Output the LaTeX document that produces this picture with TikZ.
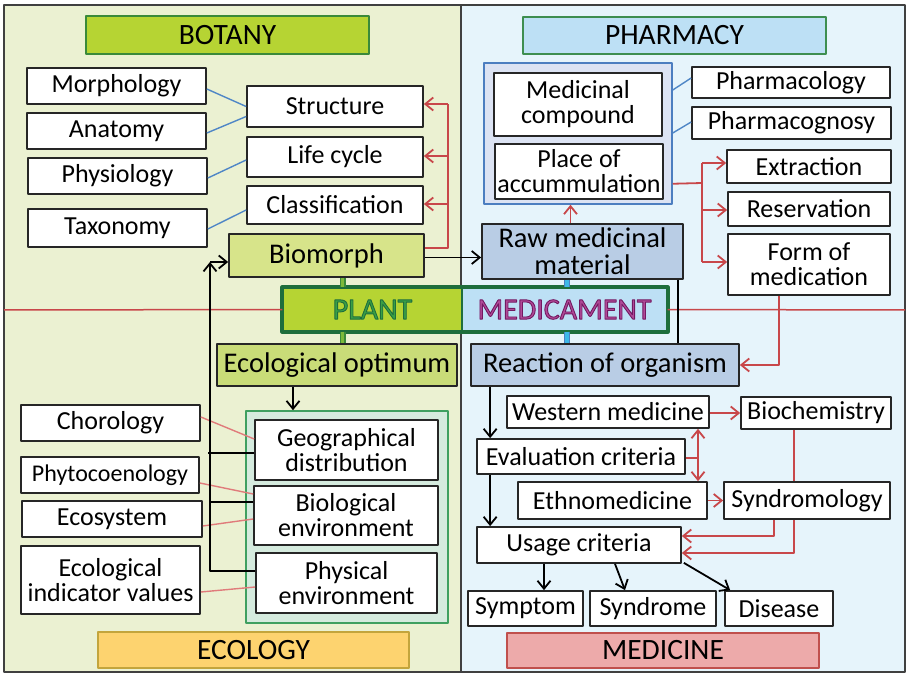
\documentclass[tikz,border=0pt]{standalone}
\usepackage{fontspec}
\setmainfont{Carlito}
\usetikzlibrary{arrows.meta,calc}

\definecolor{botbg}{HTML}{EBF1D2}
\definecolor{phbg}{HTML}{E6F4FB}
\definecolor{botfill}{HTML}{B6D433}
\definecolor{botline}{HTML}{3A8A3A}
\definecolor{phfill}{HTML}{BDE0F5}
\definecolor{phline}{HTML}{3E8E50}
\definecolor{ecofill}{HTML}{FDD36F}
\definecolor{ecoline}{HTML}{C3A53C}
\definecolor{medfill}{HTML}{EDAAAA}
\definecolor{medline}{HTML}{C0504D}
\definecolor{morphfill}{HTML}{D7E48A}
\definecolor{optfill}{HTML}{C9DC78}
\definecolor{rawfill}{HTML}{B9CDE5}
\definecolor{storefill}{HTML}{DCE3F3}
\definecolor{storeline}{HTML}{4C7EC0}
\definecolor{envfill}{HTML}{D5EBDE}
\definecolor{envline}{HTML}{3FA060}
\definecolor{hubgreen}{HTML}{1E6E3C}
\definecolor{planttext}{HTML}{3A9F45}
\definecolor{medtext}{HTML}{B04A98}
\definecolor{linkblue}{HTML}{4F86C6}
\definecolor{linkpink}{HTML}{E07B7B}
\definecolor{flowred}{HTML}{C8474A}
\definecolor{stubgreen}{HTML}{7DB93A}
\definecolor{stubblue}{HTML}{3DB8E8}

% outlined lettering for the two centre words
\newcommand{\outlined}[2]{\special{pdf:literal direct 2 Tr 0.9 w #1 RG}#2\special{pdf:literal direct 0 Tr}}

\begin{document}
\begin{tikzpicture}[x=1pt,y=-1pt,>={Straight Barb[length=8pt,width=13pt]},line join=round]
  \tikzset{
    box/.style={draw=black!85,line width=1.7pt,fill=white,inner sep=0pt,align=center,font=\fontsize{26}{25}\selectfont},
    big/.style={box,font=\fontsize{28.5}{27}\selectfont},
    head/.style={box,font=\fontsize{29.5}{30}\selectfont},
    panel/.style={line width=1.5pt,inner sep=0pt},
    hub/.style={draw=hubgreen,line width=1.4pt,inner sep=0pt,font=\fontsize{30}{30}\selectfont},
    link/.style={line width=1.4pt,linkblue},
    tie/.style={line width=1.4pt,linkpink},
    feed/.style={line width=1.8pt,flowred},
    flow/.style={->,feed},
    wire/.style={line width=1.8pt},
    arr/.style={->,wire},
    stub/.style={line width=1.2pt,double distance=3.6pt}
  }
  \useasboundingbox (0,0) rectangle (906,674);

  % the four fields behind everything
  \fill[botbg] (4,5) rectangle (461,672);
  \fill[phbg] (461,5) rectangle (905,672);
  \draw[line width=1.5pt,black!75] (4,5) rectangle (905,672) (461,5) -- (461,672);

  % titles
  \node[head,fill=botfill,draw=botline,minimum width=283,minimum height=38] (botany) at (227.5,35) {BOTANY};
  \node[head,fill=phfill,draw=phline,minimum width=303,minimum height=37] (pharmacy) at (674.5,35.5) {PHARMACY};
  \node[head,fill=ecofill,draw=ecoline,minimum width=311,minimum height=36] (ecology) at (253.5,650) {ECOLOGY};
  \node[head,fill=medfill,draw=medline,minimum width=312,minimum height=35] (medicine) at (663,650.5) {MEDICINE};

  % botany
  \node[box,minimum width=179,minimum height=36] (morph) at (116.5,86) {Morphology};
  \node[box,minimum width=179,minimum height=36] (anat) at (116.5,131) {Anatomy};
  \node[box,minimum width=179,minimum height=36] (physio) at (117.5,176) {Physiology};
  \node[box,minimum width=179,minimum height=38] (taxo) at (117.5,228) {Taxonomy};
  \node[box,minimum width=176,minimum height=41] (struct) at (335,106.5) {Structure};
  \node[box,minimum width=176,minimum height=40] (life) at (335,157) {Life cycle};
  \node[box,minimum width=176,minimum height=38] (classif) at (335,205) {Classification};
  \node[big,fill=morphfill,minimum width=195,minimum height=43] (biomorph) at (326.5,255.5) {Biomorph};

  % pharmacy
  \node[panel,fill=storefill,draw=storeline,minimum width=188,minimum height=141] (store) at (578,133.5) {};
  \node[box,minimum width=168,minimum height=63] (medcomp) at (578,104.5) {Medicinal\\compound};
  \node[box,minimum width=168,minimum height=55] (place) at (579,171.5) {Place of\\accummulation};
  \node[box,minimum width=198,minimum height=31] (pharmacol) at (791,82.5) {Pharmacology};
  \node[box,minimum width=199,minimum height=32] (pharmacog) at (791.5,123) {Pharmacognosy};
  \node[box,minimum width=164,minimum height=33] (extract) at (809,166.5) {Extraction};
  \node[box,minimum width=162,minimum height=34] (reserv) at (809,209) {Reservation};
  \node[box,minimum width=162,minimum height=61] (form) at (809,264.5) {Form of\\medication};
  \node[big,fill=rawfill,minimum width=201,minimum height=55] (raw) at (582.5,251.5) {Raw medicinal\\material};

  % centre
  \node[hub,fill=botfill,text=planttext,minimum width=179,minimum height=43] (plant) at (372.5,309.5) {\outlined{0.12 0.43 0.24}{PLANT}};
  \node[hub,fill=phfill,text=medtext,minimum width=205,minimum height=43] (medic) at (564.5,309.5) {\outlined{0.45 0.1 0.38}{MEDICAMENT}};
  \draw[hubgreen,line width=3.8pt] (plant.north west) rectangle (medic.south east);

  % ecology
  \node[big,fill=optfill,minimum width=240,minimum height=42] (ecopt) at (337,365) {Ecological optimum};
  \node[panel,fill=envfill,draw=envline,minimum width=202,minimum height=212] (env) at (347,517) {};
  \node[box,minimum width=183,minimum height=60] (geo) at (346.5,450) {Geographical\\distribution};
  \node[box,minimum width=184,minimum height=59] (bio) at (346,515.5) {Biological\\environment};
  \node[box,minimum width=181,minimum height=60] (phys) at (346.5,583) {Physical\\environment};
  \node[box,minimum width=179,minimum height=36] (choro) at (110.5,423) {Chorology};
  \node[box,minimum width=178,minimum height=36,font=\fontsize{24}{24}\selectfont] (phyto) at (110,475) {Phytocoenology};
  \node[box,minimum width=180,minimum height=36] (ecosys) at (112,519) {Ecosystem};
  \node[box,minimum width=179,minimum height=68] (indic) at (110.5,580) {Ecological\\indicator values};

  % medicine
  \node[big,fill=rawfill,minimum width=268,minimum height=42] (react) at (605,365) {Reaction of organism};
  \node[box,minimum width=202,minimum height=32] (western) at (608,412) {Western medicine};
  \node[box,minimum width=150,minimum height=32] (biochem) at (816,413) {Biochemistry};
  \node[box,minimum width=208,minimum height=35] (evalc) at (581,456.5) {Evaluation criteria};
  \node[box,minimum width=189,minimum height=37] (ethno) at (612.5,500.5) {Ethnomedicine};
  \node[box,minimum width=166,minimum height=37] (syndrol) at (807,500.5) {Syndromology};
  \node[box,minimum width=204,minimum height=36] (usage) at (579,545) {Usage criteria};
  \node[box,minimum width=115,minimum height=35] (symptom) at (525.5,608.5) {Symptom};
  \node[box,minimum width=126,minimum height=35] (syndrome) at (653,608.5) {Syndrome};
  \node[box,minimum width=108,minimum height=35] (disease) at (779,608.5) {Disease};

  % stubs that tie the centre to its neighbours
  \coordinate (gs) at ($(biomorph.south)+(16,0)$);
  \draw[stub,draw=botline,double=stubgreen] (gs) -- (gs |- plant.north) (gs |- plant.south) -- (gs |- ecopt.north);
  \coordinate (bs) at ($(raw.south)+(-15.5,0)$);
  \draw[stub,draw=storeline,double=stubblue] (bs) -- (bs |- medic.north) (bs |- medic.south) -- (bs |- react.north);

  % the red line between the upper and lower halves
  \draw[feed,line width=1.5pt] (4,310) -- (plant.west) (medic.east) -- (905,310);

  % botany links
  \draw[link] ($(morph.east)+(0,3)$) -- (struct.west);
  \draw[link] ($(anat.east)+(0,2)$) -- ($(struct.west)+(0,10)$);
  \draw[link] ($(physio.east)+(0,2)$) -- ($(life.west)+(0,3)$);
  \draw[link] ($(taxo.east)+(0,1)$) -- ($(classif.west)+(0,5)$);
  \coordinate (rb) at (448,0);
  \draw[feed] ($(biomorph.east)+(0,-7.5)$) -| ($(rb |- struct.east)+(0,-2.5)$);
  \draw[flow] ($(rb |- struct.east)+(0,-2.5)$) -- ($(struct.east)+(0,-2.5)$);
  \draw[flow] ($(rb |- life.east)+(0,-1)$) -- ($(life.east)+(0,-1)$);
  \draw[flow] ($(rb |- classif.east)+(0,-1)$) -- ($(classif.east)+(0,-1)$);

  % plant to medicament
  \draw[arr] ($(biomorph.east)+(0,2)$) coordinate (bm) -- (bm -| raw.west);
  \draw[wire] ($(raw.south east)+(-6,0)$) coordinate (rr) -- (rr |- react.north);

  % pharmacy links
  \draw[link] ($(store.east)+(0,-43.5)$) -- ($(pharmacol.west)+(0,-4.5)$);
  \draw[link] ($(store.east)+(0,-0.5)$) -- ($(pharmacog.west)+(0,-1)$);
  \draw[flow] ($(raw.north)+(-12,0)$) coordinate (rn) -- (rn |- store.south);
  \coordinate (sp) at (702,183);
  \draw[feed] ($(store.south east)+(0,-21)$) -- (sp);
  \draw[feed] ($(sp |- extract.west)+(0,-3.5)$) -- ($(sp |- form.west)+(0,-2.5)$);
  \draw[flow] ($(sp |- extract.west)+(0,-3.5)$) -- ($(extract.west)+(0,-3.5)$);
  \draw[flow] ($(sp |- reserv.west)+(0,1)$) -- ($(reserv.west)+(0,1)$);
  \draw[flow] ($(sp |- form.west)+(0,-2.5)$) -- ($(form.west)+(0,-2.5)$);
  \draw[flow] ($(form.south)+(-30,0)$) |- (react.east);

  % ecology links
  \draw[arr] ($(ecopt.south)+(-44,0)$) coordinate (eo) -- (eo |- env.north);
  \draw[tie] ($(choro.east)+(0,-6)$) -- ($(geo.west)+(0,-11)$);
  \draw[tie] ($(phyto.east)+(0,8)$) -- ($(bio.west)+(0,-21.5)$);
  \draw[tie] ($(ecosys.east)+(0,7)$) -- ($(bio.west)+(0,3.5)$);
  \draw[tie] ($(indic.east)+(0,12)$) -- ($(phys.west)+(0,4)$);
  \coordinate (lp) at (210,262);
  \draw[arr] (lp) -- (lp -| biomorph.west);
  \draw[arr] ($(phys.west)+(0,-12)$) -| (lp);
  \draw[wire] ($(geo.west)+(0,3)$) -- ($(lp |- geo.west)+(-2,3)$);
  \draw[wire] ($(bio.west)+(0,-13.5)$) -- ($(lp |- bio.west)+(0,-13.5)$);

  % medicine links
  \draw[arr] ($(react.south west)+(20,0)$) coordinate (ro) -- (ro |- evalc.north);
  \draw[arr] (ro |- evalc.south) -- (ro |- usage.north);
  \draw[flow] ($(western.east)+(0,1)$) -- (biochem.west);
  \coordinate (ev) at (698,458);
  \draw[feed] ($(evalc.east)+(0,1.5)$) -- (ev);
  \draw[flow] (ev) -- (ev |- western.south);
  \draw[flow] (ev) -- (ev |- ethno.north);
  \draw[flow] (ethno.east) -- (syndrol.west);
  \draw[feed] ($(biochem.south)+(-22,0)$) coordinate (bc) -- (bc |- syndrol.north);
  \draw[flow] (bc |- syndrol.south) |- ($(usage.east)+(0,8)$);
  \draw[flow] ($(syndrol.south)+(-33,0)$) |- ($(usage.east)+(0,-9)$);
  \draw[arr] ($(usage.south)+(-35,0)$) coordinate (u1) -- (u1 |- symptom.north);
  \draw[arr] ($(usage.south)+(36,0)$) -- ($(syndrome.north)+(-28,0)$);
  \draw[arr] ($(usage.south east)+(2,-1)$) -- ($(disease.north west)+(6,0)$);
\end{tikzpicture}
\end{document}
